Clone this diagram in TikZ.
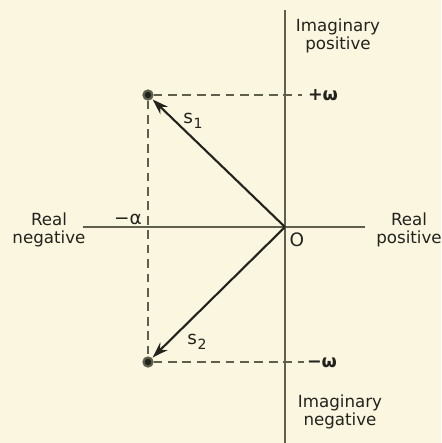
\documentclass[tikz,border=0pt]{standalone}
\usepackage{fontspec}
\setmainfont{DejaVu Sans}
\usetikzlibrary{arrows.meta,positioning,backgrounds}
\definecolor{paper}{RGB}{251,246,224}
\definecolor{inkdark}{RGB}{35,35,30}
\definecolor{axisgray}{RGB}{95,95,78}
\newcommand{\subidx}[1]{\kern0.3pt\raisebox{-2.5pt}{\fontsize{8}{9}\selectfont #1}}
\tikzset{
  axisline/.style={line width=1.1pt,color=axisgray},
  guideline/.style={dash pattern=on 5pt off 3.2pt,line width=1.4pt,color=axisgray},
  vecarrow/.style={-{Stealth[length=9pt,width=6pt]},line width=1.2pt,color=inkdark,
    shorten >=0.5pt},
  polenode/.style={circle,draw=axisgray,fill=inkdark,line width=1.2pt,
    inner sep=0pt,minimum size=5.2pt},
  axislabel/.style={font=\fontsize{9.5}{10.5}\selectfont,align=center,color=inkdark},
  marklabel/.style={font=\fontsize{10.5}{12}\selectfont,color=inkdark},
}

\begin{document}
\begin{tikzpicture}[x=0.02cm,y=-0.02cm]

%% ── paper ────────────────────────────────────────────────────────────────
\fill[paper] (0,0) rectangle (441,443);
\useasboundingbox (0,0) rectangle (441,443);

%% ── axes ─────────────────────────────────────────────────────────────────
\coordinate (O) at (285,227);
\coordinate (imtop) at (285,10);
\coordinate (imbot) at (285,443);
\coordinate (releft) at (83,227);
\coordinate (reright) at (365,227);
\draw[axisline] (imtop) -- (imbot);
\draw[axisline] (releft) -- (reright);

%% ── poles ────────────────────────────────────────────────────────────────
\node[polenode] (p1) at (148,95) {};
\node[polenode] (p2) at (148,362) {};
\coordinate (wpos) at (302,95);
\coordinate (wneg) at (304,362);

% guides to the axes
\draw[guideline] (p1.east) -- (wpos);
\draw[guideline] (p2.east) -- (wneg);
\draw[guideline] (p1.south) -- (p2.north);

% vectors s1, s2
\draw[vecarrow] (O) -- (p1);
\draw[vecarrow] (O) -- (p2);

%% ── labels ───────────────────────────────────────────────────────────────
\node[axislabel] (impos) at (338,36) {Imaginary\\positive};
\node[axislabel] (imneg) at (340,412) {Imaginary\\negative};
\node[axislabel] (reneg) at (49,230) {Real\\negative};
\node[axislabel] (repos) at (409,230) {Real\\positive};

\node[marklabel,font=\fontsize{10}{12}\selectfont\bfseries] (lw1) at (323,95) {+ω};
\node[marklabel,font=\fontsize{10}{12}\selectfont\bfseries] (lw2) at (322,363) {−ω};
\node[marklabel] (lal) at (128,219) {−α};
\node[marklabel] (lO) at (297,240) {O};
\node[marklabel] (ls1) at (193,121) {s\subidx{1}};
\node[marklabel] (ls2) at (197,342) {s\subidx{2}};

\end{tikzpicture}
\end{document}
